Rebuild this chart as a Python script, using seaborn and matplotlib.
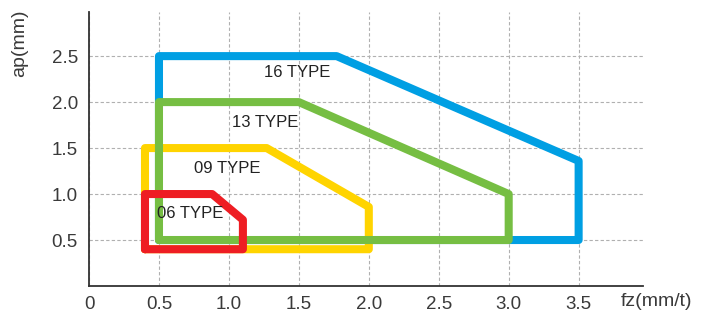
import pandas as pd
import matplotlib
matplotlib.use('Agg')
import matplotlib.pyplot as plt
import seaborn as sns

# cutting ranges per insert type: outline vertices (fz, ap), closed
types = ['16 TYPE', '09 TYPE', '13 TYPE', '06 TYPE']
fz_16 = [0.5, 0.5, 1.77, 3.5, 3.5, 0.5]
ap_16 = [0.5, 2.5, 2.5, 1.36, 0.5, 0.5]
fz_13 = [0.5, 0.5, 1.5, 3.0, 3.0, 0.5]
ap_13 = [0.5, 2.0, 2.0, 1.0, 0.5, 0.5]
fz_09 = [0.4, 0.4, 1.27, 2.0, 2.0, 0.4]
ap_09 = [0.4, 1.5, 1.5, 0.86, 0.4, 0.4]
fz_06 = [0.4, 0.4, 0.88, 1.1, 1.1, 0.4]
ap_06 = [0.4, 1.0, 1.0, 0.72, 0.4, 0.4]
colors = ['#009FE3', '#FFD400', '#76BE43', '#EE1D23']

label_x = [1.49, 0.99, 1.26, 0.72]
label_y = [2.32, 1.28, 1.78, 0.79]

x_ticks = [0, 0.5, 1.0, 1.5, 2.0, 2.5, 3.0, 3.5]
x_labels = ['0', '0.5', '1.0', '1.5', '2.0', '2.5', '3.0', '3.5']
y_ticks = [0.5, 1.0, 1.5, 2.0, 2.5]
y_labels = ['0.5', '1.0', '1.5', '2.0', '2.5']

outlines = {'16 TYPE': (fz_16, ap_16), '13 TYPE': (fz_13, ap_13),
            '09 TYPE': (fz_09, ap_09), '06 TYPE': (fz_06, ap_06)}
rows = []
for t in types:
    xs, ys = outlines[t]
    for i, (x, y) in enumerate(zip(xs, ys)):
        rows.append({'type': t, 'step': i, 'fz': x, 'ap': y})
df = pd.DataFrame(rows)

sns.set_style('white')
plt.rcParams['font.family'] = ['Liberation Sans', 'DejaVu Sans']
txt = '#3a3a3a'

fig = plt.figure(figsize=(7.1, 3.17), dpi=100)
ax = fig.add_axes([0.1254, 0.0978, 0.7802, 0.8644])

for t, c in zip(types, colors):
    sns.lineplot(data=df[df['type'] == t], x='fz', y='ap', sort=False, estimator=None,
                 color=c, linewidth=5.8, solid_joinstyle='round', solid_capstyle='round',
                 ax=ax, legend=False, zorder=3)

for t, x, y in zip(types, label_x, label_y):
    ax.text(x, y, t, ha='center', va='center', fontsize=12, color='#222222', zorder=5)

ax.set_xlim(0, 3.96)
ax.set_ylim(0, 2.98)
ax.set_xticks(x_ticks)
ax.set_xticklabels(x_labels)
ax.set_yticks(y_ticks)
ax.set_yticklabels(y_labels)
ax.tick_params(length=0, labelsize=13.5, labelcolor=txt)
ax.tick_params(axis='x', pad=7)
ax.tick_params(axis='y', pad=8)
ax.grid(True, linestyle=(0, (3, 2)), color='#b0b0b0', linewidth=0.8)
ax.set_axisbelow(True)
for s in ['top', 'right']:
    ax.spines[s].set_visible(False)
for s in ['left', 'bottom']:
    ax.spines[s].set_color('#333333')
    ax.spines[s].set_linewidth(1.3)
ax.set_xlabel('')
ax.set_ylabel('')
ax.text(1.025, -0.058, 'fz(mm/t)', transform=ax.transAxes, ha='center', va='center',
        fontsize=14, color=txt)
ax.text(-0.1245, 0.887, 'ap(mm)', transform=ax.transAxes, ha='center', va='center',
        rotation=90, fontsize=14, color=txt)

fig.savefig('out.png', dpi=100)
